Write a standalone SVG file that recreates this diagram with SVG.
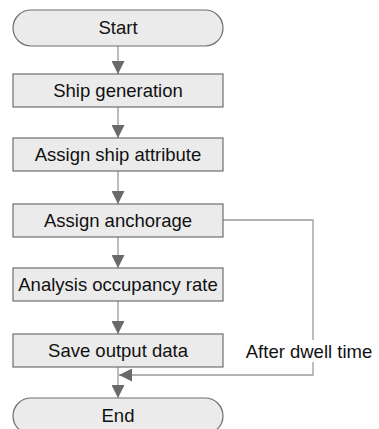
<svg xmlns="http://www.w3.org/2000/svg" width="379" height="429" viewBox="0 0 379 429">
<defs>
<style>
.box{fill:#ebebeb;stroke:#6e6e6e;stroke-width:1.2}
.t{font-family:"Liberation Sans",Arial,sans-serif;font-size:18.5px;fill:#111;text-anchor:middle}
.ln{fill:none;stroke:#9a9a9a;stroke-width:1.3}
</style>
<marker id="ah" viewBox="0 0 12 12" refX="12" refY="6" markerWidth="13" markerHeight="13" markerUnits="userSpaceOnUse" orient="auto">
<path d="M0,0 L12,6 L0,12 Z" fill="#6a6a6a"/>
</marker>
</defs>
<rect width="379" height="429" fill="#fff"/>
<g id="connectors">
<line class="ln" x1="118" y1="46" x2="118" y2="74" marker-end="url(#ah)"/>
<line class="ln" x1="118" y1="107" x2="118" y2="138" marker-end="url(#ah)"/>
<line class="ln" x1="118" y1="171" x2="118" y2="204" marker-end="url(#ah)"/>
<line class="ln" x1="118" y1="237" x2="118" y2="268" marker-end="url(#ah)"/>
<line class="ln" x1="118" y1="301" x2="118" y2="334" marker-end="url(#ah)"/>
<line class="ln" x1="118" y1="367" x2="118" y2="398" marker-end="url(#ah)"/>
<polyline class="ln" points="223,220 313,220 313,375 119,375" marker-end="url(#ah)"/>
</g>
<g id="label">
<rect x="243" y="340" width="134" height="22" fill="#fff"/>
<text class="t" x="309" y="358">After dwell time</text>
</g>
<g id="start">
<rect class="box" x="13" y="10" width="210" height="36" rx="18" ry="18"/>
<text class="t" x="118" y="34">Start</text>
</g>
<g id="ship-generation">
<rect class="box" x="13" y="74" width="210" height="33"/>
<text class="t" x="118" y="97">Ship generation</text>
</g>
<g id="assign-ship-attribute">
<rect class="box" x="13" y="138" width="210" height="33"/>
<text class="t" x="118" y="161">Assign ship attribute</text>
</g>
<g id="assign-anchorage">
<rect class="box" x="13" y="204" width="210" height="33"/>
<text class="t" x="118" y="227">Assign anchorage</text>
</g>
<g id="analysis-occupancy-rate">
<rect class="box" x="13" y="268" width="210" height="33"/>
<text class="t" x="118" y="291">Analysis occupancy rate</text>
</g>
<g id="save-output-data">
<rect class="box" x="13" y="334" width="210" height="33"/>
<text class="t" x="118" y="357">Save output data</text>
</g>
<g id="end">
<rect class="box" x="13" y="398" width="210" height="36" rx="18" ry="18"/>
<text class="t" x="118" y="422">End</text>
</g>
</svg>
